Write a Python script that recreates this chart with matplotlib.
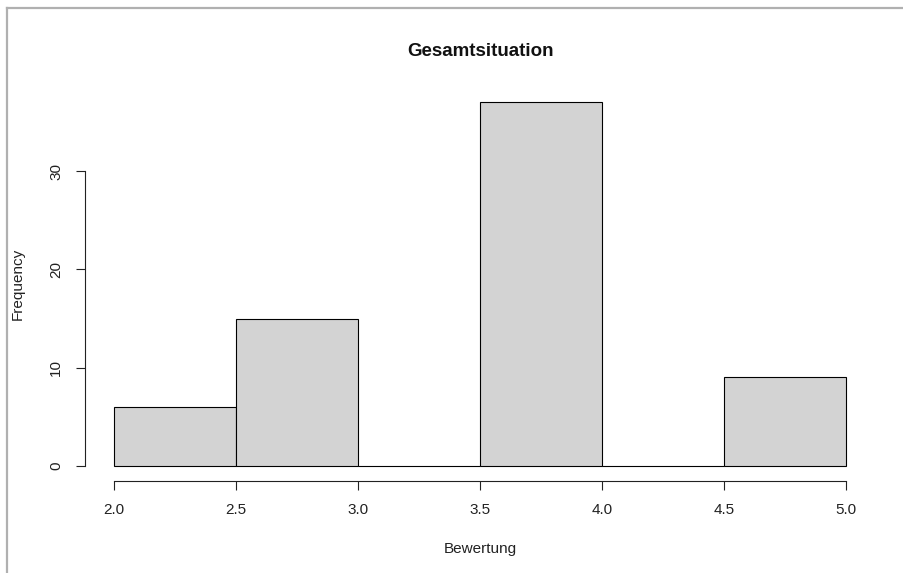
import matplotlib
matplotlib.use("Agg")
import matplotlib.pyplot as plt
from matplotlib.lines import Line2D

plt.rcParams["font.family"] = ["Liberation Sans", "DejaVu Sans"]

# Histogram data
bin_edges = [2.0, 2.5, 3.0, 3.5, 4.0, 4.5, 5.0]
counts = [6, 15, 0, 37, 0, 9]
x_ticks = [2.0, 2.5, 3.0, 3.5, 4.0, 4.5, 5.0]
y_ticks = [0, 10, 20, 30]

W, H = 904, 573
fig = plt.figure(figsize=(W / 100, H / 100), dpi=100)

# plot region like R (4% extension)
left, right = 84.7, 875.5
bottom, top = 480.5, 87.7
ax = fig.add_axes([left / W, 1 - bottom / H, (right - left) / W, (bottom - top) / H])

widths = [b - a for a, b in zip(bin_edges[:-1], bin_edges[1:])]
ax.bar(bin_edges[:-1], counts, width=widths, align="edge",
       color="#d3d3d3", edgecolor="black", linewidth=0.8)

span_x = bin_edges[-1] - bin_edges[0]
ax.set_xlim(bin_edges[0] - 0.04 * span_x, bin_edges[-1] + 0.04 * span_x)
ymax = max(counts)
ax.set_ylim(-0.04 * ymax, ymax * 1.04)

for s in ["top", "right"]:
    ax.spines[s].set_visible(False)
ax.spines["bottom"].set_bounds(x_ticks[0], x_ticks[-1])
ax.spines["left"].set_bounds(y_ticks[0], y_ticks[-1])
for s in ["bottom", "left"]:
    ax.spines[s].set_linewidth(0.8)
    ax.spines[s].set_color("#222222")

ax.set_xticks(x_ticks)
ax.set_xticklabels([f"{v:.1f}" for v in x_ticks])
ax.set_yticks(y_ticks)
ax.set_yticklabels([str(v) for v in y_ticks], rotation=90, va="center")
ax.tick_params(axis="both", length=6.5, width=0.8, color="#222222",
               labelsize=11, labelcolor="#222222")
ax.tick_params(axis="x", pad=10)
ax.tick_params(axis="y", pad=9)

fig.text(480 / W, 1 - 51 / H, "Gesamtsituation", ha="center", va="center",
         fontsize=13.5, fontweight="bold", color="#111111")
fig.text(480 / W, 1 - 549 / H, "Bewertung", ha="center", va="center",
         fontsize=11, color="#222222")
fig.text(18 / W, 1 - 284 / H, "Frequency", ha="center", va="center",
         rotation=90, fontsize=11, color="#222222")

# grey frame around the screenshot (top and left edges)
fig.add_artist(Line2D([7 / W, 1], [1 - 8 / H, 1 - 8 / H], transform=fig.transFigure,
                      color="#b0b0b0", linewidth=1.6))
fig.add_artist(Line2D([7 / W, 7 / W], [0, 1 - 8 / H], transform=fig.transFigure,
                      color="#b0b0b0", linewidth=1.6))

fig.savefig("out.png", dpi=100)
